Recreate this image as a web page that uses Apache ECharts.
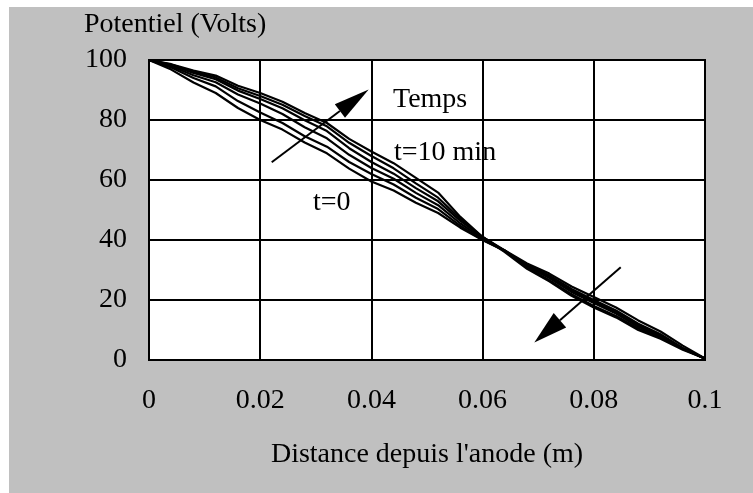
<!DOCTYPE html>
<html><head><meta charset="utf-8">
<script src="https://cdn.jsdelivr.net/npm/echarts@6/dist/echarts.min.js"></script>
<style>html,body{margin:0;padding:0;background:#fff;overflow:hidden}#c{position:absolute;left:9px;top:7px;width:744px;height:486px}</style>
</head><body><div id="c"></div><script>
// Distance from anode (m)
const distance = [0,0.004,0.008,0.012,0.016,0.02,0.024,0.028,0.032,0.036,0.04,0.044,0.048,0.052,0.056,0.06,0.064,0.068,0.072,0.076,0.08,0.084,0.088,0.092,0.096,0.1];
// Potential (V), six successive times from t=0 to t=10 min
const curveT0 = [100,96.8,92.5,89.0,84.0,80,76.8,72.5,68.9,63.8,59.5,56.5,52.4,49.0,44.1,40,36.5,32.2,28.8,24.5,21,17.5,13.2,9.5,4.8,0.5];
const curveT1 = [100,97.5,94.0,91.2,86.3,82.5,79.0,74.6,71.1,66.0,62,58.5,54.1,50.3,44.7,40,36.3,31.8,28.2,23.7,20,16.5,12.1,8.6,4.0,0.3];
const curveT2 = [100,97.9,94.9,92.6,88.5,85.5,82.0,77.6,73.9,68.4,64,60.4,55.7,51.6,45.5,40.5,36.4,31.5,27.7,23.2,19.5,16.0,11.6,8.2,3.8,0.5];
const curveT3 = [100,98.3,95.7,93.6,89.8,87,83.9,79.9,76.3,70.6,66,62.1,57.3,52.9,46.4,41,36.5,31.2,27.3,22.7,19,15.5,11.1,7.9,3.8,0.5];
const curveT4 = [100,98.5,96.1,94.2,90.6,88,85.1,81.3,77.9,72.4,68,63.9,58.9,54.1,47.0,41,36.3,30.8,26.6,21.9,18,14.7,10.5,7.6,3.7,0.5];
const curveT5 = [100,98.6,96.5,94.8,91.4,89,86.1,82.3,79.0,73.7,69.5,65.6,60.7,55.8,47.7,41,36.0,30.4,26.2,21.4,17.5,14.2,10.0,7.1,3.4,0.5];
const curves = [curveT0, curveT1, curveT2, curveT3, curveT4, curveT5];
const xTickLabels = ['0','0.02','0.04','0.06','0.08','0.1'];
const yTickLabels = ['0','20','40','60','80','100'];
// annotation arrows (data units): [tail, tip]
const arrowUp = [[0.02207,65.9],[0.03951,90.2]];
const arrowDown = [[0.08484,30.9],[0.0693,5.8]];

const FONT = 'Liberation Serif';
const chart = echarts.init(document.getElementById('c'));
const series = curves.map((c, i) => ({
  type: 'line',
  data: distance.map((d, j) => [d, c[j]]),
  showSymbol: false,
  lineStyle: { color: '#000', width: 2.2 },
  itemStyle: { color: '#000' },
  silent: true,
  z: 3
}));
const texts = [
  { type: 'text', left: 75, top: 4, style: { text: 'Potentiel (Volts)', font: '28px "Liberation Serif"', fill: '#000' } },
  { type: 'text', x: 384, y: 93, style: { text: 'Temps', font: '28px "Liberation Serif"', fill: '#000', verticalAlign: 'middle' }, z: 10 },
  { type: 'text', x: 385, y: 146, style: { text: 't=10 min', font: '28px "Liberation Serif"', fill: '#000', verticalAlign: 'middle' }, z: 10 },
  { type: 'text', x: 304, y: 196, style: { text: 't=0', font: '28px "Liberation Serif"', fill: '#000', verticalAlign: 'middle' }, z: 10 }
];
const option = {
  animation: false,
  backgroundColor: '#c0c0c0',
  textStyle: { fontFamily: FONT },
  grid: { left: 140, top: 53, width: 556, height: 300, show: true, backgroundColor: '#fff', borderColor: '#000', borderWidth: 2 },
  xAxis: {
    type: 'value', min: 0, max: 0.1, interval: 0.02,
    name: "Distance depuis l'anode (m)", nameLocation: 'middle', nameGap: 81,
    nameTextStyle: { fontFamily: FONT, fontSize: 28, color: '#000' },
    axisLine: { show: true, lineStyle: { color: '#000', width: 2 } },
    axisTick: { show: false },
    splitLine: { show: true, lineStyle: { color: '#000', width: 2 } },
    axisLabel: { margin: 27, fontFamily: FONT, fontSize: 28, color: '#000', lineHeight: 28,
      formatter: v => xTickLabels[Math.round(v / 0.02)] }
  },
  yAxis: {
    type: 'value', min: 0, max: 100, interval: 20,
    axisLine: { show: true, lineStyle: { color: '#000', width: 2 } },
    axisTick: { show: false },
    splitLine: { show: true, lineStyle: { color: '#000', width: 2 } },
    axisLabel: { margin: 22, fontFamily: FONT, fontSize: 28, color: '#000',
      formatter: v => yTickLabels[Math.round(v / 20)] }
  },
  graphic: texts,
  series: series
};
chart.setOption(option);

// arrows placed through the chart's own scales
function arrowGraphics(arrow, headLen, headW) {
  const a = chart.convertToPixel({ gridIndex: 0 }, arrow[0]);
  const b = chart.convertToPixel({ gridIndex: 0 }, arrow[1]);
  const dx = b[0] - a[0], dy = b[1] - a[1];
  const L = Math.hypot(dx, dy), ux = dx / L, uy = dy / L;
  const bx = b[0] - ux * headLen, by = b[1] - uy * headLen;
  const px = -uy * headW / 2, py = ux * headW / 2;
  return [
    { type: 'line', shape: { x1: a[0], y1: a[1], x2: bx, y2: by }, style: { stroke: '#000', lineWidth: 2 }, z: 10, silent: true },
    { type: 'polygon', shape: { points: [[b[0], b[1]], [bx + px, by + py], [bx - px, by - py]] }, style: { fill: '#000' }, z: 10, silent: true }
  ];
}
chart.setOption({ graphic: texts.concat(arrowGraphics(arrowUp, 36, 17), arrowGraphics(arrowDown, 34, 19)) });
</script></body></html>
